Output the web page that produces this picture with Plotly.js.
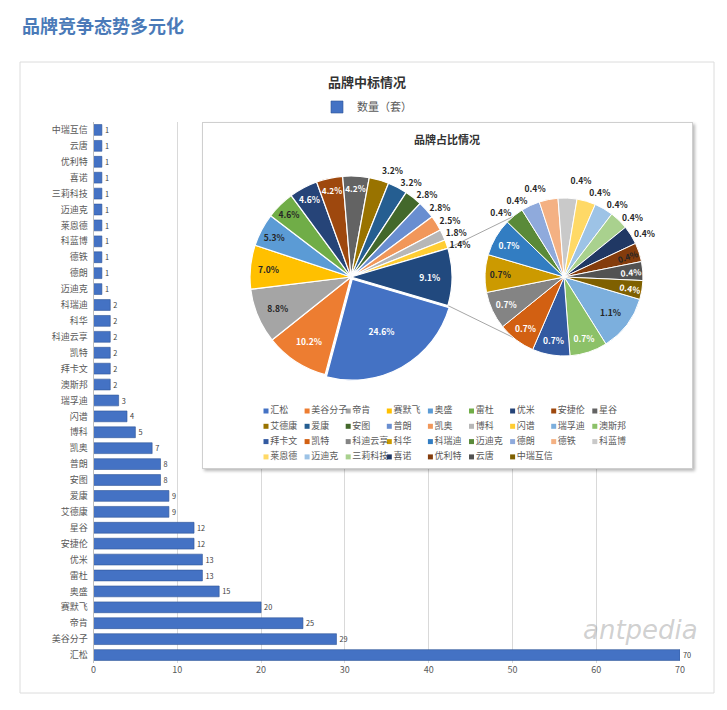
<!DOCTYPE html>
<html><head><meta charset="utf-8">
<script src="https://cdn.plot.ly/plotly-3.0.1.min.js"></script>
<style>
html,body{margin:0;padding:0;background:#fff;}
#wrap{position:relative;width:727px;height:710px;overflow:hidden;}
#bars{position:absolute;left:0;top:0;width:727px;height:710px;}
#pies{position:absolute;left:202px;top:122px;width:489px;height:345px;border:1px solid #cfcfcf;box-shadow:2px 2px 3px rgba(0,0,0,0.28);background:#fff;}
#pies path.textline{display:none !important;}
</style></head><body>
<div id="wrap"><div id="bars"></div><div id="pies"></div></div>
<script>
// ---------- data ----------
const brands = ['汇松','美谷分子','帝肯','赛默飞','奥盛','雷杜','优米','安捷伦','星谷','艾德康','爱康','安图','普朗','凯奥','博科','闪谱','瑞孚迪','澳斯邦','拜卡文','凯特','科迪云享','科华','科瑞迪','迈迪克','德朗','德铁','科蓝博','莱恩德','迈迪克','三莉科技','喜诺','优利特','云唐','中瑞互信'];
const counts = [70,29,25,20,15,13,13,12,12,9,9,8,8,7,5,4,3,2,2,2,2,2,2,1,1,1,1,1,1,1,1,1,1,1];
const seriesName = '数量（套）';
const pageTitle = '品牌竞争态势多元化';
const barTitle = '品牌中标情况';
const pieTitle = '品牌占比情况';
const otherLabel = '其他';
const mainSliceCount = 16;   // brands shown in the first pie; the rest go to the second pie

// ---------- styles ----------
const sliceColors = ['#4472C4','#ED7D31','#A5A5A5','#FFC000','#5B9BD5','#70AD47','#264478','#9E480E','#636363','#997300','#255E91','#43682B','#698ED0','#F1975A','#B7B7B7','#FFCD33','#7CAFDD','#8CC168','#335AA1','#D26012','#848484','#CC9A00','#327DC2','#5A8A39','#8FAADC','#F4B183','#C9C9C9','#FFD966','#9DC3E6','#A9D18E','#203864','#843C0C','#525252','#7F6000'];
const otherColor = '#21497E';
// label style per slice: i = inside white, d = inside dark, o = outside
const mainLabelStyle = ['i','i','d','d','d','d','i','i','i','o','o','o','o','o','o','o','i'];
const secLabelStyle  = ['d','i','i','i','i','d','i','o','o','o','o','o','o','o','o','d','i','i'];
const FONT = '"Noto Sans CJK SC", "Noto Sans", sans-serif';

const total = counts.reduce((a,b)=>a+b,0);
const pct = v => (v/total*100).toFixed(1)+'%';
const idx = counts.map((_,i)=>i);

// ---------- bar chart ----------
const W = 727, H = 710;
const barTrace = {
  type:'bar', orientation:'h', x: counts, y: idx, name: seriesName,
  customdata: brands, hovertemplate:'%{customdata}: %{x}<extra></extra>',
  text: counts.map(String), textposition:'outside', cliponaxis:false,
  textfont:{size:9.5, color:'#404040', family:FONT},
  marker:{color:'#4472C4', line:{color:'#2F5597', width:0.6}}
};
const barLayout = {
  width:W, height:H, margin:{l:0,r:0,t:0,b:0},
  paper_bgcolor:'#fff', plot_bgcolor:'rgba(0,0,0,0)',
  font:{family:FONT, color:'#595959'},
  title:{text:barTitle, x:367/W, xanchor:'center', y:1-82/H, yanchor:'middle',
         font:{size:13, weight:'bold', color:'#333333', family:FONT}},
  showlegend:true,
  legend:{orientation:'h', x:367/W, xanchor:'center', y:1-107/H, yanchor:'middle',
          font:{size:11, color:'#595959', family:FONT}, bgcolor:'rgba(0,0,0,0)'},
  bargap:0.32,
  xaxis:{domain:[93.5/W, 680/W], range:[0,70], dtick:10, tick0:0, showgrid:true, gridcolor:'#d9d9d9',
         zeroline:false, showline:false, ticks:'', tickfont:{size:9, color:'#595959'}, fixedrange:true},
  yaxis:{domain:[1-663/H, 1-122/H], range:[-0.5, counts.length-0.5], tickvals:idx, ticktext:brands,
         showgrid:false, zeroline:false, showline:true, linecolor:'#bfbfbf', linewidth:1, ticks:'',
         tickfont:{size:9, color:'#595959'}, ticklabelstandoff:3, fixedrange:true},
  shapes:[{type:'rect', xref:'paper', yref:'paper', x0:20/W, x1:714/W, y0:1-693/H, y1:1-62/H,
           line:{color:'#dcdcdc', width:1}, fillcolor:'rgba(0,0,0,0)', layer:'below'}],
  annotations:[
    {text:pageTitle, xref:'paper', yref:'paper', x:20/W, xanchor:'left', y:1-25/H, yanchor:'middle',
     showarrow:false, font:{size:18, weight:'bold', color:'#4A7AB8', family:FONT}},
    {text:'antpedia', xref:'paper', yref:'paper', x:640/W, xanchor:'center', y:1-630/H, yanchor:'middle',
     showarrow:false, font:{size:26, style:'italic', color:'rgba(150,150,150,0.45)', family:'DejaVu Sans'}}
  ]
};
Plotly.newPlot('bars', [barTrace], barLayout, {displayModeBar:false, staticPlot:true});

// ---------- pie of pie ----------
const W2 = 489, H2 = 345;
const mainVals = counts.slice(0, mainSliceCount);
const secVals = counts.slice(mainSliceCount);
const otherVal = secVals.reduce((a,b)=>a+b,0);
const mainV = mainVals.concat([otherVal]);
const mainNames = brands.slice(0, mainSliceCount).concat([otherLabel]);
const mainCols = sliceColors.slice(0, mainSliceCount).concat([otherColor]);
const secNames = brands.slice(mainSliceCount);
const secCols = sliceColors.slice(mainSliceCount);

const rot = 90 + 180*otherVal/total;  // centre the "other" slice on 3 o'clock
const mainG = {cx:148, cy:154, r:101, pull:0.025};
const secG = {cx:361, cy:154, r:79};
function dom(g, pull){ const h = g.r*(1+(pull||0)); return {x:[(g.cx-h)/W2,(g.cx+h)/W2], y:[1-(g.cy+h)/H2, 1-(g.cy-h)/H2]}; }
const posOf = s => s==='o' ? 'outside' : 'inside';
const colOf = s => s==='i' ? '#ffffff' : '#262626';

const mainPie = {
  type:'pie', values: mainV, labels: mainNames.map((n,i)=>'m'+i), customdata: mainNames,
  hovertemplate:'%{customdata}: %{value}<extra></extra>',
  sort:false, direction:'clockwise', rotation: rot, domain: dom(mainG, mainG.pull),
  pull: mainV.map((v,i)=> i===0 ? mainG.pull : 0),
  marker:{colors: mainCols, line:{color:'#ffffff', width:1.2}},
  textinfo:'text', text: mainV.map(pct), textposition: mainLabelStyle.map(posOf),
  insidetextorientation:'horizontal',
  textfont:{size:8.5, weight:'bold', family:FONT, color: mainLabelStyle.map(colOf)},
  showlegend:false
};
const secPie = {
  type:'pie', values: secVals, labels: secNames.map((n,i)=>'s'+i), customdata: secNames,
  hovertemplate:'%{customdata}: %{value}<extra></extra>',
  sort:false, direction:'clockwise', rotation: rot, domain: dom(secG),
  marker:{colors: secCols, line:{color:'#ffffff', width:1}},
  textinfo:'text', text: secVals.map(pct), textposition: secLabelStyle.map(posOf),
  insidetextorientation:'auto',
  textfont:{size:8.5, weight:'bold', family:FONT, color: secLabelStyle.map(colOf)},
  showlegend:false
};

// legend grid (9 columns) drawn as a marker+text trace on hidden axes
const legCols = 9, legDx = 41.1, legDy = 15.3, legX0 = 63, legY0 = 288;
const legendTrace = {
  type:'scatter', mode:'markers+text', xaxis:'x', yaxis:'y',
  x: brands.map((_,i)=> i%legCols), y: brands.map((_,i)=> -Math.floor(i/legCols)),
  text: brands, textposition:'middle right', textfont:{size:9, color:'#595959', family:FONT},
  marker:{symbol:'square', size:5, color: sliceColors}, hoverinfo:'skip', showlegend:false, cliponaxis:false
};

function pt(g, deg, rr){ const a = deg*Math.PI/180; return [g.cx + (rr||g.r)*Math.sin(a), g.cy - (rr||g.r)*Math.cos(a)]; }
const aTop = rot + 360*(1 - otherVal/total), aBot = rot + 360;
const m1 = pt(mainG, aTop), m2 = pt(mainG, aBot);
const s1 = pt(secG, 320), s2 = pt(secG, 220);
const conn = (a,b)=>({type:'line', xref:'paper', yref:'paper', x0:a[0]/W2, y0:1-a[1]/H2, x1:b[0]/W2, y1:1-b[1]/H2,
                      line:{color:'#a6a6a6', width:1}, layer:'below'});

const pieLayout = {
  width:W2, height:H2, margin:{l:0,r:0,t:0,b:0}, paper_bgcolor:'#fff', plot_bgcolor:'rgba(0,0,0,0)',
  font:{family:FONT, color:'#595959'}, showlegend:false,
  title:{text:pieTitle, x:244/W2, xanchor:'center', y:1-17/H2, yanchor:'middle',
         font:{size:11, weight:'bold', color:'#333333', family:FONT}},
  xaxis:{visible:false, range:[-legX0/legDx, (W2-legX0)/legDx], fixedrange:true},
  yaxis:{visible:false, range:[-(H2-legY0)/legDy, legY0/legDy], fixedrange:true},
  shapes:[conn(m1,s1), conn(m2,s2)]
};
Plotly.newPlot('pies', [legendTrace, mainPie, secPie], pieLayout, {displayModeBar:false, staticPlot:true});
</script>
</body></html>
